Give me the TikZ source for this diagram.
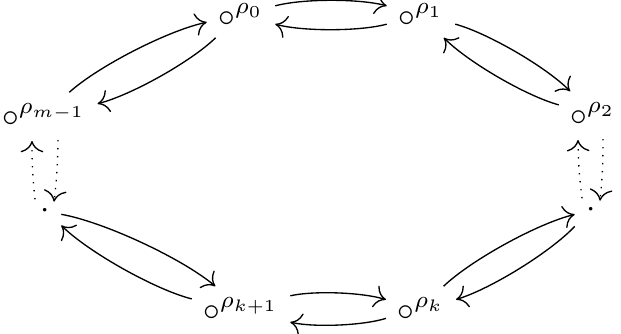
\documentclass[tikz,border=0pt]{standalone}
\usepackage{amsmath,amssymb}
\usepackage{tikz}
\usetikzlibrary{arrows.meta}
\tikzset{
  stateobj/.style={inner sep=3.3pt},
  mv/.style={-{Computer Modern Rightarrow[length=3.4pt,width=6.8pt]},thin,bend left=15,looseness=0.65},
  dotmv/.style={-{Computer Modern Rightarrow[length=3.4pt,width=6.8pt]},thin,dotted},
}
\newcommand{\rstate}[1]{$\circ^{\rho_{#1}}$}

\begin{document}
\begin{tikzpicture}[x=0.3pt,y=-0.3pt]
\useasboundingbox (0,0) rectangle (621,333);
\node[stateobj] (r0) at (241,15) {\rstate{0}};
\node[stateobj] (r1) at (421,15) {\rstate{1}};
\node[stateobj] (r2) at (593,114) {\rstate{2}};
\node[stateobj] (rm) at (44,115) {\rstate{m-1}};
\node[stateobj] (dl) at (45,211) {$\cdot$};
\node[stateobj] (dr) at (591,210) {$\cdot$};
\node[stateobj] (rk1) at (241,309) {\rstate{k+1}};
\node[stateobj] (rk) at (421,309) {\rstate{k}};
\draw[mv] (r0) to (r1);
\draw[mv] (r1) to (r0);
\draw[mv] (r1) to (r2);
\draw[mv] (r2) to (r1);
\draw[mv] (rm) to (r0);
\draw[mv] (r0) to (rm);
\draw[mv] (dl) to (rk1);
\draw[mv] (rk1) to (dl);
\draw[mv] (rk1) to (rk);
\draw[mv] (rk) to (rk1);
\draw[mv] (rk) to (dr);
\draw[mv] (dr) to (rk);
\draw[dotmv] ([xshift=-3pt,yshift=3.5pt]dl.center) to[bend left=3] ([xshift=-3.6pt,yshift=-7.8pt]rm.center);
\draw[dotmv] ([xshift=4.2pt,yshift=-7.5pt]rm.center) to[bend left=3] ([xshift=2.7pt,yshift=2.8pt]dl.center);
\draw[dotmv] ([xshift=-2.7pt,yshift=3.5pt]dr.center) to[bend left=3] ([xshift=-4.5pt,yshift=-7.8pt]r2.center);
\draw[dotmv] ([xshift=3pt,yshift=-7.5pt]r2.center) to[bend left=3] ([xshift=2.7pt,yshift=2.8pt]dr.center);
\end{tikzpicture}
\end{document}
